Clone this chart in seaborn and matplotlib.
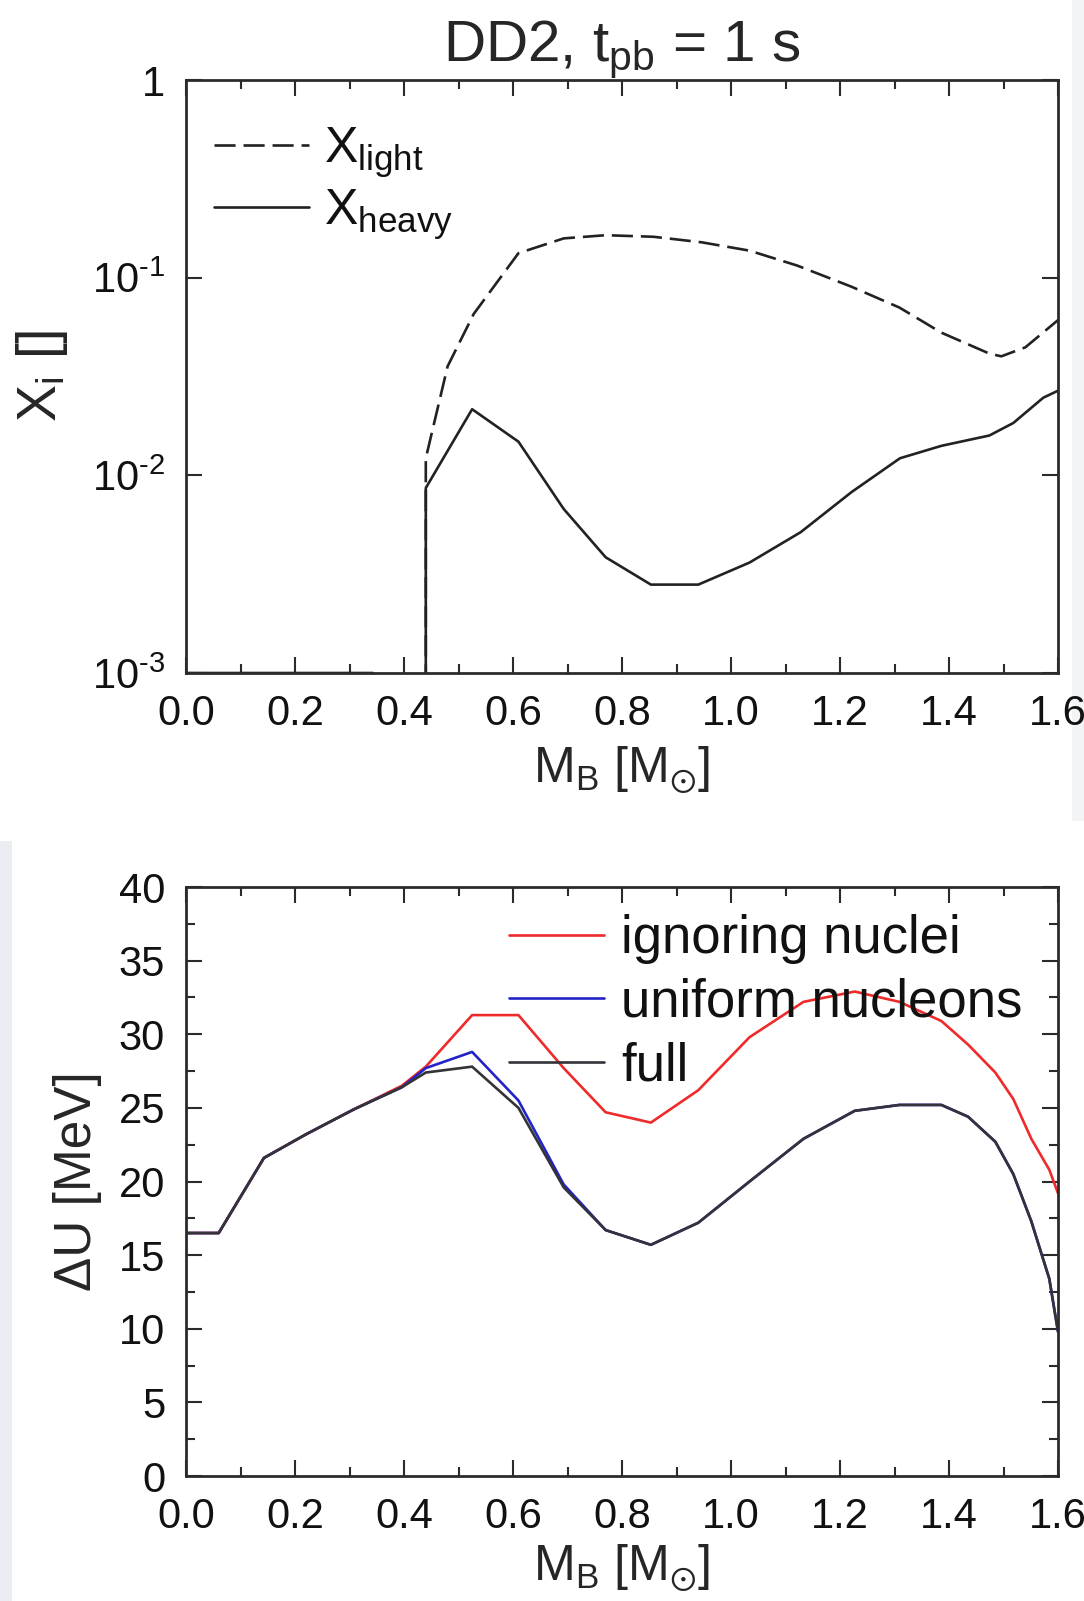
import numpy as np
import pandas as pd
import matplotlib
matplotlib.use("Agg")
import matplotlib.pyplot as plt
from matplotlib.patches import Rectangle
import seaborn as sns
from matplotlib.ticker import FixedLocator, FixedFormatter, MultipleLocator, NullLocator

# ---------------- data ----------------
# top panel: mass fractions
m_light = [0.44, 0.44, 0.48, 0.528, 0.61, 0.693, 0.77, 0.858, 0.946, 1.034, 1.122,
           1.221, 1.309, 1.386, 1.474, 1.496, 1.54, 1.6]
x_light = [1e-6, 0.0122, 0.0356, 0.0656, 0.133, 0.158, 0.164, 0.161, 0.151, 0.137, 0.115,
           0.090, 0.0706, 0.0527, 0.0413, 0.040, 0.0444, 0.061]

m_heavy = [0.0, 0.343, 0.343, 0.44, 0.44, 0.525, 0.61, 0.693, 0.77, 0.853, 0.94, 1.034,
           1.128, 1.221, 1.31, 1.386, 1.474, 1.518, 1.573, 1.6]
x_heavy = [1e-3, 1e-3, 1e-6, 1e-6, 0.00863, 0.0216, 0.0148, 0.00676, 0.00385, 0.0028,
           0.0028, 0.00362, 0.00516, 0.00822, 0.0122, 0.0141, 0.0159, 0.0184, 0.0247, 0.0268]

# bottom panel: Delta U
m_b = [0.0, 0.06, 0.143, 0.22, 0.308, 0.396, 0.44, 0.525, 0.61, 0.693, 0.77, 0.853, 0.94,
       1.034, 1.133, 1.227, 1.309, 1.386, 1.435, 1.485, 1.518, 1.551, 1.584, 1.6]
du_ignoring = [16.5, 16.5, 21.6, 23.2, 24.9, 26.5, 27.8, 31.3, 31.3, 27.7, 24.7, 24.0, 26.2,
               29.8, 32.2, 32.9, 32.2, 30.9, 29.3, 27.4, 25.6, 22.9, 20.8, 19.2]
du_uniform = [16.5, 16.5, 21.6, 23.2, 24.9, 26.4, 27.7, 28.8, 25.5, 19.8, 16.7, 15.7, 17.2,
              20.0, 22.9, 24.8, 25.2, 25.2, 24.4, 22.7, 20.5, 17.3, 13.4, 9.8]
du_full = [16.5, 16.5, 21.6, 23.2, 24.9, 26.4, 27.4, 27.8, 25.0, 19.6, 16.7, 15.7, 17.2,
           20.0, 22.9, 24.8, 25.2, 25.2, 24.4, 22.7, 20.5, 17.3, 13.4, 9.8]

log_ticks = [1e-3, 1e-2, 1e-1, 1]
log_labels = [r'$\mathregular{10^{\text{-}3}}$', r'$\mathregular{10^{\text{-}2}}$',
              r'$\mathregular{10^{\text{-}1}}$', '1']
x_tick_vals = [0.0, 0.2, 0.4, 0.6, 0.8, 1.0, 1.2, 1.4, 1.6]
x_tick_labels = ['0.0', '0.2', '0.4', '0.6', '0.8', '1.0', '1.2', '1.4', '1.6']

# ---------------- style ----------------
sns.set_theme(style="ticks")
plt.rcParams['font.family'] = ['Liberation Sans', 'DejaVu Sans']
plt.rcParams['mathtext.fontset'] = 'custom'
plt.rcParams['mathtext.rm'] = 'Liberation Sans'
plt.rcParams['mathtext.it'] = 'Liberation Sans:italic'
plt.rcParams['mathtext.bf'] = 'Liberation Sans:bold'
plt.rcParams['axes.unicode_minus'] = False

W, H = 1084, 1601
fig = plt.figure(figsize=(W / 100, H / 100), dpi=100)
fig.patch.set_facecolor('white')

# faint screenshot edge shading
fig.patches.append(Rectangle((0, 0), 12 / W, 760 / H, transform=fig.transFigure,
                             facecolor='#eaedf2', edgecolor='none', zorder=-10))
fig.patches.append(Rectangle((1072 / W, 780 / H), 12 / W, 821 / H, transform=fig.transFigure,
                             facecolor='#f3f4f6', edgecolor='none', zorder=-10))

left = 186 / W
width = (1058 - 186) / W
ph = 593 / H
ax1 = fig.add_axes([left, 1 - 673 / H, width, ph])
ax2 = fig.add_axes([left, 1 - 1476 / H, width, ph - 4 / H])

FRAME = '#2b2b2b'
TICK_FS = 30
LAB_FS = 36
LW = 1.9

for ax in (ax1, ax2):
    for s in ax.spines.values():
        s.set_linewidth(2.0)
        s.set_color(FRAME)
    ax.tick_params(which='both', direction='in', top=True, right=True,
                   color=FRAME, width=1.5, labelsize=TICK_FS, pad=15, labelcolor='#111111')
    ax.tick_params(which='major', length=11.5)
    ax.tick_params(which='minor', length=6.5)
    ax.set_facecolor('white')

# ---- top panel ----
df_l = pd.DataFrame({'m': m_light, 'x': x_light})
df_h = pd.DataFrame({'m': m_heavy, 'x': x_heavy})
sns.lineplot(data=df_l, x='m', y='x', ax=ax1, color='#222222', lw=LW,
             sort=False, estimator=None, label=r'$\mathregular{X_{light}}$')
ax1.lines[-1].set_dashes([8, 3])
sns.lineplot(data=df_h, x='m', y='x', ax=ax1, color='#222222', lw=LW,
             sort=False, estimator=None, label=r'$\mathregular{X_{heavy}}$')
ax1.set_yscale('log')
ax1.set_ylim(1e-3, 1)
ax1.set_xlim(0, 1.6)
ax1.yaxis.set_major_locator(FixedLocator(log_ticks))
ax1.yaxis.set_major_formatter(FixedFormatter(log_labels))
ax1.yaxis.set_minor_locator(NullLocator())
ax1.xaxis.set_major_locator(FixedLocator(x_tick_vals))
ax1.xaxis.set_major_formatter(FixedFormatter(x_tick_labels))
ax1.xaxis.set_minor_locator(MultipleLocator(0.1))
ax1.set_xlabel(r'$\mathregular{M_B\ [M_{\odot}]}$', fontsize=LAB_FS, labelpad=8)
ax1.set_ylabel(r'$\mathregular{X_i\ []}$', fontsize=40, labelpad=16)
ax1.set_title(r'DD2, $\mathregular{t_{pb}}$ = 1 s', fontsize=42, pad=10)

leg1 = ax1.legend(loc='upper left', bbox_to_anchor=(214 / W, 1 - 126 / H),
                  bbox_transform=fig.transFigure, frameon=False, fontsize=36,
                  handlelength=1.9, handletextpad=0.3, labelspacing=0.15,
                  borderpad=0, borderaxespad=0)
for t in leg1.get_texts():
    t.set_color('#111111')

# ---- bottom panel ----
df_b = pd.DataFrame({'m': m_b, 'ign': du_ignoring, 'uni': du_uniform, 'full': du_full})
sns.lineplot(data=df_b, x='m', y='ign', ax=ax2, color='#ee2a2a', lw=LW,
             sort=False, estimator=None, label='ignoring nuclei')
sns.lineplot(data=df_b, x='m', y='uni', ax=ax2, color='#2323c8', lw=LW,
             sort=False, estimator=None, label='uniform nucleons')
sns.lineplot(data=df_b, x='m', y='full', ax=ax2, color='#333338', lw=LW,
             sort=False, estimator=None, label='full')
ax2.set_xlim(0, 1.6)
ax2.set_ylim(0, 40)
ax2.yaxis.set_major_locator(MultipleLocator(5))
ax2.yaxis.set_minor_locator(MultipleLocator(2.5))
ax2.xaxis.set_major_locator(FixedLocator(x_tick_vals))
ax2.xaxis.set_major_formatter(FixedFormatter(x_tick_labels))
ax2.xaxis.set_minor_locator(MultipleLocator(0.1))
ax2.set_xlabel(r'$\mathregular{M_B\ [M_{\odot}]}$', fontsize=LAB_FS, labelpad=4)
ax2.set_ylabel('ΔU [MeV]', fontsize=37, labelpad=12)

leg2 = ax2.legend(loc='upper left', bbox_to_anchor=(509 / W, 1 - 914 / H),
                  bbox_transform=fig.transFigure, frameon=False, fontsize=38,
                  handlelength=1.8, handletextpad=0.33, labelspacing=0.26,
                  borderpad=0, borderaxespad=0)
for t in leg2.get_texts():
    t.set_color('#111111')

fig.savefig('out.png', dpi=100, facecolor='white')
